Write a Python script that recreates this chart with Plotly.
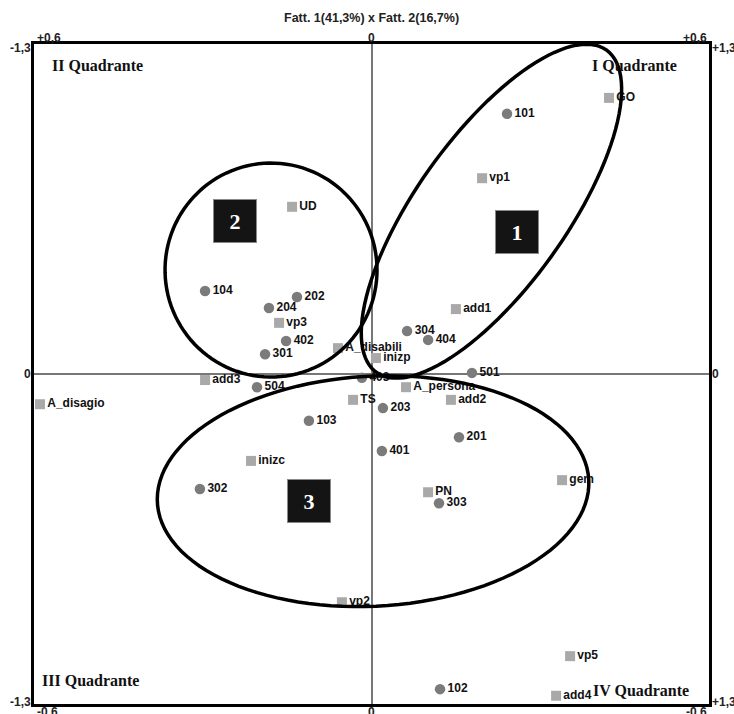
import numpy as np
import plotly.graph_objects as go

# Correspondence analysis map: Fatt. 1 (horizontal) x Fatt. 2 (vertical)
x_range = [-1.3, 1.3]
y_range = [-0.6, 0.6]

# Row points (circles)
row_labels = ["101", "104", "202", "204", "402", "301", "304", "404", "501",
              "504", "403", "203", "103", "401", "201", "302", "303", "102"]
row_x = [0.522, -0.641, -0.287, -0.395, -0.329, -0.410, 0.137, 0.218, 0.387,
         -0.441, -0.037, 0.044, -0.241, 0.040, 0.337, -0.661, 0.260, 0.264]
row_y = [0.473, 0.151, 0.140, 0.120, 0.060, 0.036, 0.078, 0.062, 0.002,
         -0.024, -0.007, -0.062, -0.085, -0.140, -0.115, -0.209, -0.235, -0.573]

# Column points (squares)
col_labels = ["GO", "vp1", "UD", "vp3", "add1", "A_disabili", "inizp", "add3",
              "A_persona", "add2", "A_disagio", "TS", "inizc", "PN", "gem",
              "vp2", "vp5", "add4"]
col_x = [0.915, 0.426, -0.306, -0.356, 0.325, -0.129, 0.017, -0.641,
         0.133, 0.306, -1.277, -0.071, -0.464, 0.218, 0.734,
         -0.114, 0.765, 0.711]
col_y = [0.502, 0.356, 0.304, 0.093, 0.118, 0.047, 0.029, -0.011,
         -0.024, -0.047, -0.055, -0.047, -0.158, -0.215, -0.193,
         -0.415, -0.513, -0.585]

# Cluster numbers
cluster_names = ["1", "2", "3"]
cluster_x = [0.560, -0.526, -0.241]
cluster_y = [0.259, 0.279, -0.230]

quadrant_names = ["I Quadrante", "II Quadrante", "III Quadrante", "IV Quadrante"]
title_text = "Fatt. 1(41,3%) x Fatt. 2(16,7%)"

# Plot area geometry (pixels)
W, H = 734, 714
ML, MR, MT, MB = 34, 25, 44, 10
PW, PH = W - ML - MR, H - MT - MB
sx = (x_range[1] - x_range[0]) / PW  # data units per pixel
sy = (y_range[1] - y_range[0]) / PH

label_font = dict(family="Liberation Sans", size=12, color="#111", weight="bold")

fig = go.Figure()
fig.add_trace(go.Scatter(
    x=row_x, y=row_y, text=row_labels, mode="markers+text",
    textposition="middle right",
    marker=dict(symbol="circle", size=10.5, color="#7b7b7b", line=dict(width=0)),
    textfont=label_font, hoverinfo="skip", showlegend=False, cliponaxis=False))
fig.add_trace(go.Scatter(
    x=col_x, y=col_y, text=col_labels, mode="markers+text",
    textposition="middle right",
    marker=dict(symbol="square", size=10, color="#a9a9a9", line=dict(width=0)),
    textfont=label_font, hoverinfo="skip", showlegend=False, cliponaxis=False))


def ellipse_path(cx, cy, a_px, b_px, angle_deg, n=120):
    t = np.linspace(0, 2 * np.pi, n)
    th = np.deg2rad(angle_deg)
    ex = a_px * np.cos(t) * np.cos(th) - b_px * np.sin(t) * np.sin(th)
    ey = a_px * np.cos(t) * np.sin(th) + b_px * np.sin(t) * np.cos(th)
    xs = cx + ex * sx
    ys = cy + ey * sy
    pts = [f"{xx:.5f},{yy:.5f}" for xx, yy in zip(xs, ys)]
    return "M" + " L".join(pts) + " Z"


# Cluster outlines: (centre x, centre y, semi-axis a px, semi-axis b px, tilt)
outlines = [
    (0.462, 0.296, 198, 75, 54.5),
    (-0.387, 0.189, 106, 107, 0),
    (0.006, -0.213, 216, 115, 3),
]
for cx, cy, a, b, ang in outlines:
    fig.add_shape(type="path", path=ellipse_path(cx, cy, a, b, ang),
                  xref="x", yref="y", line=dict(color="black", width=3.5),
                  fillcolor="rgba(0,0,0,0)", layer="above")

# Numbered cluster boxes
for name, cx, cy in zip(cluster_names, cluster_x, cluster_y):
    fig.add_annotation(x=cx, y=cy, xref="x", yref="y", text=f"<b>{name}</b>",
                       showarrow=False, bgcolor="#141414", bordercolor="#888",
                       borderwidth=1, width=40, height=40,
                       font=dict(family="Liberation Serif", size=22, color="white"))

# Quadrant names (paper x of left edge, paper y of centre)
quad_pos = [(0.824, 0.967), (0.024, 0.967), (0.009, 0.036), (0.825, 0.020)]
for name, (px, py) in zip(quadrant_names, quad_pos):
    fig.add_annotation(x=px, y=py, xref="paper", yref="paper", text=name,
                       showarrow=False, xanchor="left", yanchor="middle",
                       font=dict(family="Liberation Serif", size=16, color="#111",
                                 weight="bold"))

# Extreme values at the corners of the map
tick_font = dict(family="Liberation Sans", size=12, color="#222", weight="bold")
corner_ticks = [
    ("-1,3", 0, 1, "right", "middle", -1, -4),
    ("+0,6", 0, 1, "left", "bottom", 1, -3),
    ("+0,6", 1, 1, "right", "bottom", 0, -3),
    ("+1,3", 1, 1, "left", "middle", 1, -4),
    ("-1,3", 0, 0, "right", "middle", -1, 2),
    ("-0,6", 0, 0, "left", "top", 1, 1),
    ("+1,3", 1, 0, "left", "middle", 1, 2),
    ("-0,6", 1, 0, "right", "top", 0, 1),
]
for txt, px, py, xa, ya, xs_, ys_ in corner_ticks:
    fig.add_annotation(x=px, y=py, xref="paper", yref="paper", text=txt,
                       showarrow=False, xanchor=xa, yanchor=ya,
                       xshift=xs_, yshift=ys_, font=tick_font)

# Zero marks at the ends of the axes
fig.add_annotation(x=0, y=1, xref="x", yref="paper", text="0", showarrow=False,
                   yanchor="bottom", yshift=-3, font=tick_font)
fig.add_annotation(x=0, y=0, xref="x", yref="paper", text="0", showarrow=False,
                   yanchor="top", yshift=1, font=tick_font)
fig.add_annotation(x=0, y=0, xref="paper", yref="y", text="0", showarrow=False,
                   xanchor="right", xshift=-1, font=tick_font)
fig.add_annotation(x=1, y=0, xref="paper", yref="y", text="0", showarrow=False,
                   xanchor="left", xshift=1, font=tick_font)

# Axis title on top
fig.add_annotation(x=0, y=1, xref="x", yref="paper", text=title_text,
                   showarrow=False, yanchor="middle", yshift=26,
                   font=dict(family="Liberation Sans", size=12.5, color="#222",
                             weight="bold"))

axis_common = dict(showgrid=False, showticklabels=False, ticks="",
                   zeroline=True, zerolinecolor="#777", zerolinewidth=1.5,
                   showline=True, mirror=True, linecolor="black", linewidth=3,
                   fixedrange=True)
fig.update_xaxes(range=x_range, **axis_common)
fig.update_yaxes(range=y_range, **axis_common)

fig.update_layout(width=W, height=H, margin=dict(l=ML, r=MR, t=MT, b=MB),
                  paper_bgcolor="white", plot_bgcolor="white")

fig.write_html("out.html")
